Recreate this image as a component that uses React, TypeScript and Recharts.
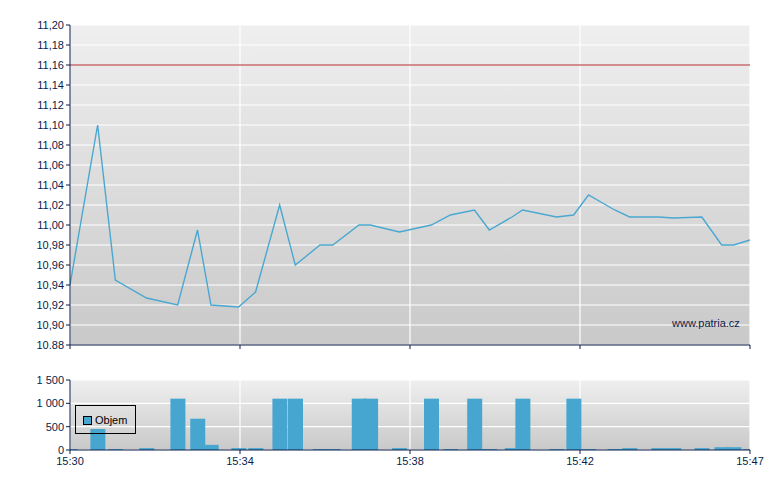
import { ComposedChart, Line, Bar, XAxis, YAxis, CartesianGrid, ReferenceLine } from 'recharts';

const tradeTimes = [
  '15:30:00', '15:30:39', '15:31:04', '15:31:48', '15:32:32', '15:33:00', '15:33:19', '15:33:58',
  '15:34:22', '15:34:56', '15:35:18', '15:35:53', '15:36:11', '15:36:48', '15:37:04', '15:37:45',
  '15:38:30', '15:38:57', '15:39:31', '15:39:52', '15:40:24', '15:40:39', '15:41:27', '15:41:51',
  '15:42:12', '15:42:49', '15:43:10', '15:43:51', '15:44:12', '15:44:52', '15:45:20', '15:45:37',
  '15:46:00',
];

const prices = [
  10.94, 11.1, 10.945, 10.927, 10.92, 10.995, 10.92, 10.918,
  10.933, 11.02, 10.96, 10.98, 10.98, 11.0, 11.0, 10.993,
  11.0, 11.01, 11.015, 10.995, 11.008, 11.015, 11.008, 11.01,
  11.03, 11.015, 11.008, 11.008, 11.007, 11.008, 10.98, 10.98,
  10.985,
];

const volumes = [
  20, 450, 20, 40, 1100, 670, 110, 40,
  40, 1100, 1100, 20, 20, 1100, 1100, 40,
  1100, 20, 1100, 20, 40, 1100, 20, 1100,
  20, 20, 40, 40, 40, 40, 60, 60,
  20,
];

const previousClose = 11.16;

const timeTicks = [0, 240, 480, 720, 960];
const timeTickLabels = ['15:30', '15:34', '15:38', '15:42', '15:47'];

const priceTicks = [10.88, 10.9, 10.92, 10.94, 10.96, 10.98, 11.0, 11.02, 11.04, 11.06, 11.08, 11.1, 11.12, 11.14, 11.16, 11.18, 11.2];
const priceTickLabels = ['10.88', '10,90', '10,92', '10,94', '10,96', '10,98', '11,00', '11,02', '11,04', '11,06', '11,08', '11,10', '11,12', '11,14', '11,16', '11,18', '11,20'];

const volumeTicks = [0, 500, 1000, 1500];
const volumeTickLabels = ['0', '500', '1 000', '1 500'];

const NAVY = '#0a1c4a';
const BLUE = '#46a6cf';
const FONT = '"Liberation Sans", Arial, sans-serif';
const BAR_WIDTH = 15;

function toSeconds(t: string) {
  const [h, m, s] = t.split(':').map(Number);
  return h * 3600 + m * 60 + s - (15 * 3600 + 30 * 60);
}

const data = tradeTimes.map((t, i) => ({
  t: toSeconds(t),
  price: prices[i],
  volume: volumes[i],
}));

const tickStyle = { fill: NAVY, fontSize: 11, fontFamily: FONT };

function labelFor(ticks: number[], labels: string[]) {
  return (v: number) => {
    const i = ticks.findIndex((x) => Math.abs(x - v) < 1e-6);
    return i >= 0 ? labels[i] : '';
  };
}

// bars on a time axis get squeezed to the smallest gap, so keep a fixed width around the centre
function VolumeBar(props: any) {
  const { x, y, width, height, fill } = props;
  if (!height) return <g />;
  const cx = x + width / 2;
  return <rect x={cx - BAR_WIDTH / 2} y={y} width={BAR_WIDTH} height={height} fill={fill} />;
}

export default function App() {
  return (
    <div style={{ position: 'fixed', left: 0, top: 0, width: 780, height: 490, background: '#fff' }}>
      <ComposedChart width={780} height={355} data={data} margin={{ top: 25, right: 30, bottom: 0, left: 0 }}>
        <defs>
          <linearGradient id="priceBg" x1="0" y1="0" x2="0" y2="1">
            <stop offset="0%" stopColor="#efefef" />
            <stop offset="100%" stopColor="#c9c9c9" />
          </linearGradient>
        </defs>
        <CartesianGrid fill="url(#priceBg)" fillOpacity={1} stroke="#ffffff" strokeWidth={1.2} />
        <XAxis
          dataKey="t"
          type="number"
          domain={[0, 960]}
          ticks={timeTicks}
          height={10}
          tickSize={4}
          tick={() => <g />}
          stroke={NAVY}
          allowDataOverflow
        />
        <YAxis
          type="number"
          domain={[10.88, 11.2]}
          ticks={priceTicks}
          width={70}
          tickSize={4}
          tick={tickStyle}
          stroke={NAVY}
          tickFormatter={labelFor(priceTicks, priceTickLabels)}
          interval={0}
          allowDataOverflow
        />
        <ReferenceLine y={previousClose} stroke="#b3262a" strokeWidth={1.2} />
        <Line
          dataKey="price"
          type="linear"
          stroke="#4aa8d0"
          strokeWidth={1.4}
          dot={false}
          activeDot={false}
          isAnimationActive={false}
        />
      </ComposedChart>
      <div
        style={{
          position: 'absolute',
          left: 672,
          top: 316,
          fontFamily: FONT,
          fontSize: 11,
          color: NAVY,
          lineHeight: '14px',
        }}
      >
        www.patria.cz
      </div>
      <div style={{ position: 'absolute', left: 0, top: 355 }}>
        <ComposedChart width={780} height={135} data={data} margin={{ top: 25, right: 30, bottom: 0, left: 0 }}>
          <defs>
            <linearGradient id="volBg" x1="0" y1="0" x2="0" y2="1">
              <stop offset="0%" stopColor="#efefef" />
              <stop offset="100%" stopColor="#c9c9c9" />
            </linearGradient>
          </defs>
          <CartesianGrid fill="url(#volBg)" fillOpacity={1} stroke="#ffffff" strokeWidth={1.2} />
          <XAxis
            dataKey="t"
            type="number"
            domain={[0, 960]}
            ticks={timeTicks}
            height={40}
            tickSize={4}
            tickMargin={3}
            tick={tickStyle}
            stroke={NAVY}
            tickFormatter={labelFor(timeTicks, timeTickLabels)}
            interval={0}
            allowDataOverflow
          />
          <YAxis
            type="number"
            domain={[0, 1500]}
            ticks={volumeTicks}
            width={70}
            tickSize={4}
            tick={tickStyle}
            stroke={NAVY}
            tickFormatter={labelFor(volumeTicks, volumeTickLabels)}
            interval={0}
          />
          <Bar dataKey="volume" fill={BLUE} shape={VolumeBar} isAnimationActive={false} />
        </ComposedChart>
        <div
          style={{
            position: 'absolute',
            left: 75,
            top: 50,
            width: 59,
            height: 27,
            border: '1px solid #000',
            fontFamily: FONT,
            fontSize: 11,
            color: '#000',
          }}
        >
          <div
            style={{
              position: 'absolute',
              left: 7,
              top: 10,
              width: 7,
              height: 7,
              background: BLUE,
              border: '1px solid #000',
            }}
          />
          <div style={{ position: 'absolute', left: 19, top: 7, lineHeight: '14px' }}>Objem</div>
        </div>
      </div>
    </div>
  );
}
